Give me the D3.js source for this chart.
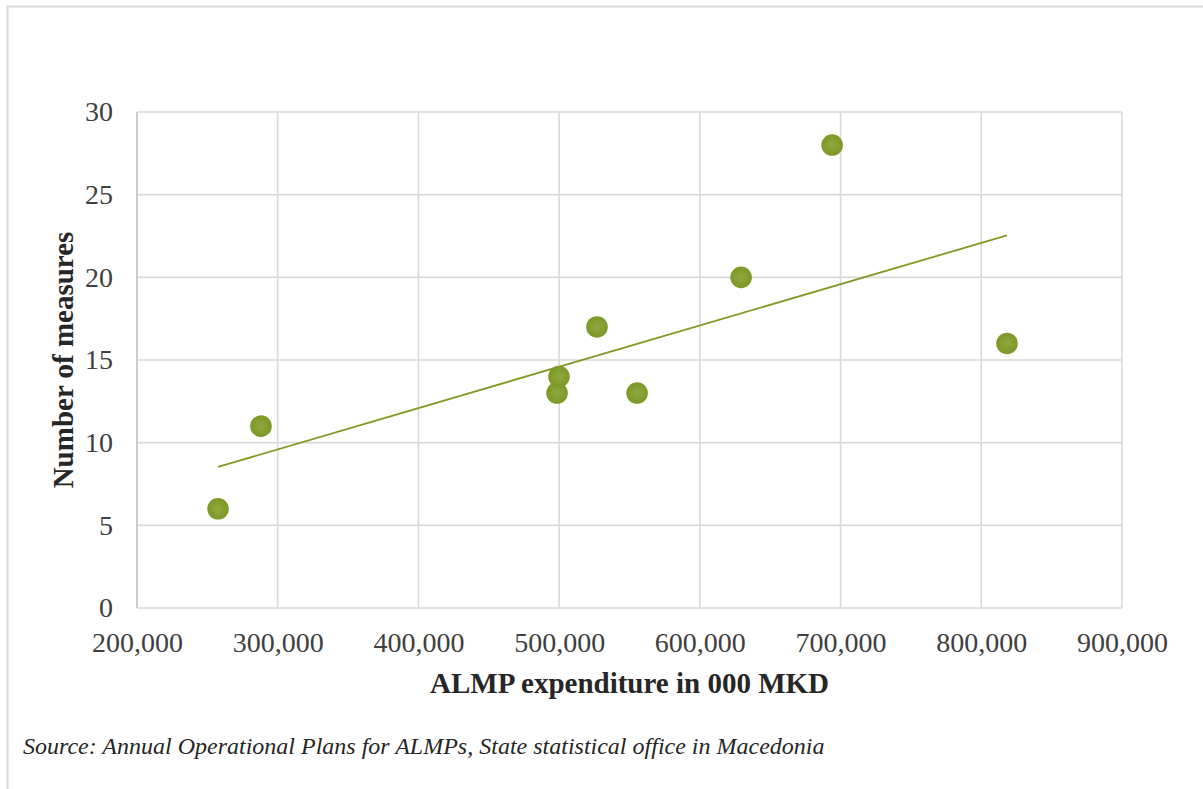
<!DOCTYPE html>
<html>
<head>
<meta charset="utf-8">
<script src="https://cdn.jsdelivr.net/npm/d3@7"></script>
<style>
  html, body { margin: 0; padding: 0; background: #ffffff; }
  svg { display: block; }
</style>
</head>
<body>
<svg id="chart" width="1203" height="789"></svg>
<script>
// ALMP spending (000 MKD) against number of active measures, one point per year
const expenditure = [257600, 288100, 498500, 499900, 526900, 555400, 629300, 694000, 818300];
const measures    = [6, 11, 13, 14, 17, 13, 20, 28, 16];

const xTicks = [200000, 300000, 400000, 500000, 600000, 700000, 800000, 900000];
const yTicks = [0, 5, 10, 15, 20, 25, 30];

const xTitle = "ALMP expenditure in 000 MKD";
const yTitle = "Number of measures";
const sourceNote = "Source: Annual Operational Plans for ALMPs, State statistical office in Macedonia";

const W = 1203, H = 789;
const plot = { left: 137, right: 1122, top: 112, bottom: 608 };

const svg = d3.select("#chart");
const serif = "'Liberation Serif', 'Times New Roman', serif";

// outer frame (top and left edges only)
svg.append("path")
  .attr("d", `M7.5,${H} V6.5 H${W}`)
  .attr("fill", "none")
  .attr("stroke", "#d9d9d9")
  .attr("stroke-width", 2);

const x = d3.scaleLinear().domain([200000, 900000]).range([plot.left, plot.right]);
const y = d3.scaleLinear().domain([0, 30]).range([plot.bottom, plot.top]);

// gridlines
const grid = svg.append("g");
grid.selectAll("line.v").data(xTicks.slice(1)).join("line")
  .attr("class", "v")
  .attr("x1", d => x(d)).attr("x2", d => x(d))
  .attr("y1", plot.top).attr("y2", plot.bottom)
  .attr("stroke", "#d9d9d9").attr("stroke-width", 1.6);
grid.selectAll("line.h").data(yTicks).join("line")
  .attr("class", "h")
  .attr("x1", plot.left).attr("x2", plot.right)
  .attr("y1", d => y(d)).attr("y2", d => y(d))
  .attr("stroke", "#d9d9d9").attr("stroke-width", 1.6);

// vertical axis line
svg.append("line")
  .attr("x1", plot.left).attr("x2", plot.left)
  .attr("y1", plot.top).attr("y2", plot.bottom)
  .attr("stroke", "#bfbfbf").attr("stroke-width", 1.6);

// axes (labels only; the grid carries the lines)
const fmt = d3.format(",");
const xAxis = svg.append("g")
  .attr("transform", `translate(0,${plot.bottom})`)
  .call(d3.axisBottom(x).tickValues(xTicks).tickFormat(fmt).tickSize(0).tickPadding(24));
const yAxis = svg.append("g")
  .attr("transform", `translate(${plot.left},0)`)
  .call(d3.axisLeft(y).tickValues(yTicks).tickSize(0).tickPadding(24));
[xAxis, yAxis].forEach(g => {
  g.select(".domain").remove();
  g.selectAll("text")
    .attr("font-family", serif)
    .attr("font-size", 28)
    .attr("fill", "#404040");
});

// least-squares trend line across the observed range
const mx = d3.mean(expenditure), my = d3.mean(measures);
const sxy = d3.sum(expenditure, (v, i) => (v - mx) * (measures[i] - my));
const sxx = d3.sum(expenditure, v => (v - mx) * (v - mx));
const slope = sxy / sxx, intercept = my - slope * mx;
const xExt = d3.extent(expenditure);
svg.append("path")
  .datum(xExt.map(v => [v, intercept + slope * v]))
  .attr("d", d3.line().x(d => x(d[0])).y(d => y(d[1])))
  .attr("fill", "none")
  .attr("stroke", "#7f9a25")
  .attr("stroke-width", 1.8);

// scatter points
const grad = svg.append("defs").append("radialGradient").attr("id", "dot");
grad.append("stop").attr("offset", "0%").attr("stop-color", "#8fa842");
grad.append("stop").attr("offset", "100%").attr("stop-color", "#7d9824");
svg.append("g").selectAll("circle")
  .data(expenditure.map((v, i) => ({ x: v, y: measures[i] })))
  .join("circle")
  .attr("cx", d => x(d.x))
  .attr("cy", d => y(d.y))
  .attr("r", 10.8)
  .attr("fill", "url(#dot)");

// axis titles
svg.append("text")
  .attr("x", (plot.left + plot.right) / 2)
  .attr("y", 693)
  .attr("text-anchor", "middle")
  .attr("font-family", serif)
  .attr("font-weight", "bold")
  .attr("font-size", 29)
  .attr("fill", "#262626")
  .text(xTitle);

svg.append("text")
  .attr("transform", `translate(73,${(plot.top + plot.bottom) / 2}) rotate(-90)`)
  .attr("text-anchor", "middle")
  .attr("font-family", serif)
  .attr("font-weight", "bold")
  .attr("font-size", 29)
  .attr("fill", "#262626")
  .text(yTitle);

// source note
svg.append("text")
  .attr("x", 23)
  .attr("y", 754)
  .attr("font-family", serif)
  .attr("font-style", "italic")
  .attr("font-size", 24)
  .attr("fill", "#262626")
  .text(sourceNote);
</script>
</body>
</html>
